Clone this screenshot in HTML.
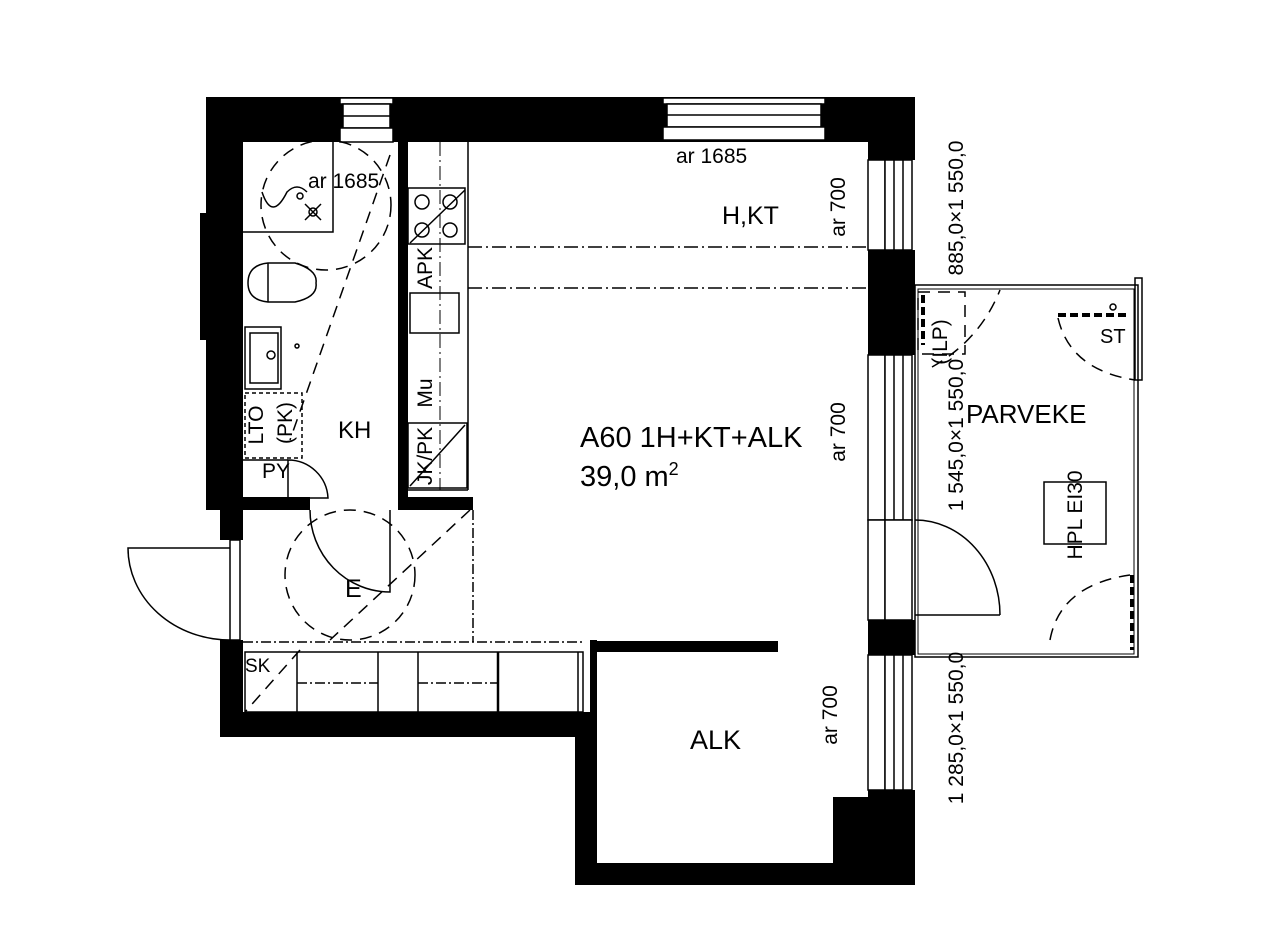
<!DOCTYPE html>
<html><head><meta charset="utf-8"><style>
html,body{margin:0;padding:0;background:#fff}
svg{display:block}
text{font-family:"Liberation Sans",Arial,sans-serif;fill:#000}
</style></head><body>
<svg width="1270" height="936" viewBox="0 0 1270 936" xmlns="http://www.w3.org/2000/svg">
<g fill="#000">
<rect x="206" y="97" width="709" height="45"/>
<rect x="868" y="97" width="47" height="63"/>
<rect x="206" y="97" width="37" height="410"/>
<rect x="200" y="213" width="8" height="127"/>
<rect x="220" y="497" width="23" height="43"/>
<rect x="220" y="640" width="23" height="97"/>
<rect x="206" y="497" width="104" height="13"/>
<rect x="398" y="497" width="75" height="13"/>
<rect x="398" y="142" width="10" height="365"/>
<rect x="220" y="712" width="377" height="25"/>
<rect x="575" y="712" width="22" height="173"/>
<rect x="590" y="640" width="7" height="80"/>
<rect x="590" y="641" width="188" height="11"/>
<rect x="575" y="863" width="340" height="22"/>
<rect x="833" y="797" width="40" height="70"/>
<rect x="868" y="142" width="47" height="18"/>
<rect x="868" y="250" width="47" height="105"/>
<rect x="868" y="620" width="47" height="35"/>
<rect x="868" y="790" width="47" height="95"/>
</g>
<g fill="#fff" stroke="#000" stroke-width="1.5">
<rect x="340" y="98" width="53" height="6"/>
<rect x="343" y="104" width="47" height="24"/>
<line x1="343" y1="116" x2="390" y2="116"/>
<rect x="340" y="128" width="53" height="14"/>
<rect x="663" y="98" width="162" height="6"/>
<rect x="667" y="104" width="154" height="23"/>
<line x1="667" y1="115" x2="821" y2="115"/>
<rect x="663" y="127" width="162" height="13"/>
<rect x="868" y="160" width="17" height="90"/><rect x="885" y="160" width="27" height="90"/><line x1="894" y1="160" x2="894" y2="250"/><line x1="903" y1="160" x2="903" y2="250"/>
<rect x="868" y="355" width="17" height="165"/><rect x="885" y="355" width="27" height="165"/><line x1="894" y1="355" x2="894" y2="520"/><line x1="903" y1="355" x2="903" y2="520"/>
<rect x="868" y="520" width="17" height="100"/><rect x="885" y="520" width="27" height="100"/>
<rect x="868" y="655" width="17" height="135"/><rect x="885" y="655" width="27" height="135"/><line x1="894" y1="655" x2="894" y2="790"/><line x1="903" y1="655" x2="903" y2="790"/>
<rect x="230" y="540" width="10" height="100"/>
</g>
<g fill="none" stroke="#000" stroke-width="1.5">
<rect x="915" y="285" width="223" height="372"/>
<rect x="918" y="289" width="216" height="365" stroke-width="1"/>
<rect x="1135" y="278" width="7" height="102"/>
<path d="M915 520 A85 95 0 0 1 1000 615"/><line x1="915" y1="615" x2="1000" y2="615"/>
<rect x="1044" y="482" width="62" height="62"/>
<path d="M230 548 L128 548 A102 92 0 0 0 230 640"/>
<path d="M310 510 A80 82 0 0 0 390 592 L390 510"/>
<path d="M288 460 A40 40 0 0 1 328 498 L288 498 Z"/>
<line x1="243" y1="460" x2="288" y2="460"/>
<line x1="468" y1="142" x2="468" y2="490"/>
<rect x="408" y="188" width="57" height="56"/>
<circle cx="422" cy="202" r="7"/><circle cx="450" cy="202" r="7"/><circle cx="422" cy="230" r="7"/><circle cx="450" cy="230" r="7"/>
<line x1="410" y1="243" x2="465" y2="190"/>
<rect x="410" y="293" width="49" height="40"/>
<rect x="408" y="423" width="59" height="65"/>
<line x1="410" y1="486" x2="465" y2="425"/>
<line x1="408" y1="490" x2="468" y2="490"/>
<polyline points="243,232 333,232 333,142"/>
<path d="M262 192 q10 30 25 0 q10 -10 20 0"/><circle cx="300" cy="196" r="3"/>
<circle cx="313" cy="212" r="4"/><path d="M305 204 l16 16 M321 204 l-16 16"/>
<path d="M268 263 L295 263 Q318 270 316 283 Q318 297 295 302 L268 302 Q248 300 248 283 Q248 265 268 263 Z"/>
<line x1="268" y1="263" x2="268" y2="302"/>
<rect x="245" y="327" width="36" height="62"/><rect x="250" y="333" width="28" height="50"/>
<circle cx="271" cy="355" r="4"/><circle cx="297" cy="346" r="2"/>
<rect x="245" y="393" width="57" height="65" stroke-dasharray="4,3"/>
<rect x="245" y="652" width="338" height="60"/>
<line x1="297" y1="652" x2="297" y2="712"/><line x1="378" y1="652" x2="378" y2="712"/><line x1="418" y1="652" x2="418" y2="712"/><line x1="498" y1="652" x2="498" y2="712" stroke-width="2.5"/><line x1="578" y1="652" x2="578" y2="712"/>
<line x1="243" y1="642" x2="583" y2="642" stroke-dasharray="10,3,2,3"/>
<line x1="297" y1="683" x2="378" y2="683" stroke-dasharray="10,3,2,3"/>
<line x1="418" y1="683" x2="498" y2="683" stroke-dasharray="10,3,2,3"/>
<line x1="473" y1="510" x2="473" y2="642" stroke-dasharray="10,3,2,3"/>
<line x1="468" y1="247" x2="868" y2="247" stroke-dasharray="14,4,2,4"/>
<line x1="468" y1="288" x2="868" y2="288" stroke-dasharray="14,4,2,4"/>
<line x1="440" y1="142" x2="440" y2="490" stroke-dasharray="14,4,2,4" stroke-width="1"/>
<g stroke-dasharray="12,8">
<circle cx="326" cy="205" r="65"/>
<circle cx="350" cy="575" r="65"/>
<line x1="390" y1="155" x2="290" y2="440"/>
<line x1="470" y1="510" x2="330" y2="640"/>
<line x1="300" y1="650" x2="245" y2="712"/>
<path d="M932 367 Q980 340 1000 290"/>
<path d="M1058 318 Q1070 370 1135 380"/>
<path d="M1050 640 Q1060 585 1130 575"/>
<rect x="918" y="292" width="47" height="62"/>
</g>
</g>
<g stroke="#000" stroke-width="4" stroke-dasharray="8,4" fill="none">
<line x1="1058" y1="315" x2="1130" y2="315"/>
<line x1="1132" y1="575" x2="1132" y2="650"/>
<line x1="923" y1="295" x2="923" y2="345"/>
</g>
<circle cx="1113" cy="307" r="3" fill="none" stroke="#000" stroke-width="1.5"/>
<text x="308" y="188" font-size="21">ar  1685</text>
<text x="676" y="163" font-size="21">ar  1685</text>
<text x="262" y="478" font-size="21">PY</text>
<text x="245" y="672" font-size="19">SK</text>
<text x="1100" y="343" font-size="20">ST</text>
<text x="722" y="224" font-size="25">H,KT</text>
<text x="338" y="438" font-size="24">KH</text>
<text x="345" y="597" font-size="25">E</text>
<text x="690" y="749" font-size="27">ALK</text>
<text x="966" y="423" font-size="26">PARVEKE</text>
<text x="580" y="447" font-size="29">A60 1H+KT+ALK</text>
<text x="580" y="486" font-size="29">39,0 m<tspan font-size="18" dy="-11">2</tspan></text>
<g font-size="21" text-anchor="middle">
<text transform="translate(845,207) rotate(-90)">ar  700</text>
<text transform="translate(845,432) rotate(-90)">ar  700</text>
<text transform="translate(837,715) rotate(-90)">ar  700</text>
<text transform="translate(963,208) rotate(-90)">885,0×1 550,0</text>
<text transform="translate(963,435) rotate(-90)">1 545,0×1 550,0</text>
<text transform="translate(963,728) rotate(-90)">1 285,0×1 550,0</text>
<text transform="translate(947,342) rotate(-90)">(ILP)</text>
<text transform="translate(1082,515) rotate(-90)">HPL EI30</text>
<text transform="translate(432,268) rotate(-90)">APK</text>
<text transform="translate(432,393) rotate(-90)">Mu</text>
<text transform="translate(432,456) rotate(-90)">JK/PK</text>
<text transform="translate(263,425) rotate(-90)">LTO</text>
<text transform="translate(292,423) rotate(-90)">(PK)</text>
</g>
</svg>
</body></html>
